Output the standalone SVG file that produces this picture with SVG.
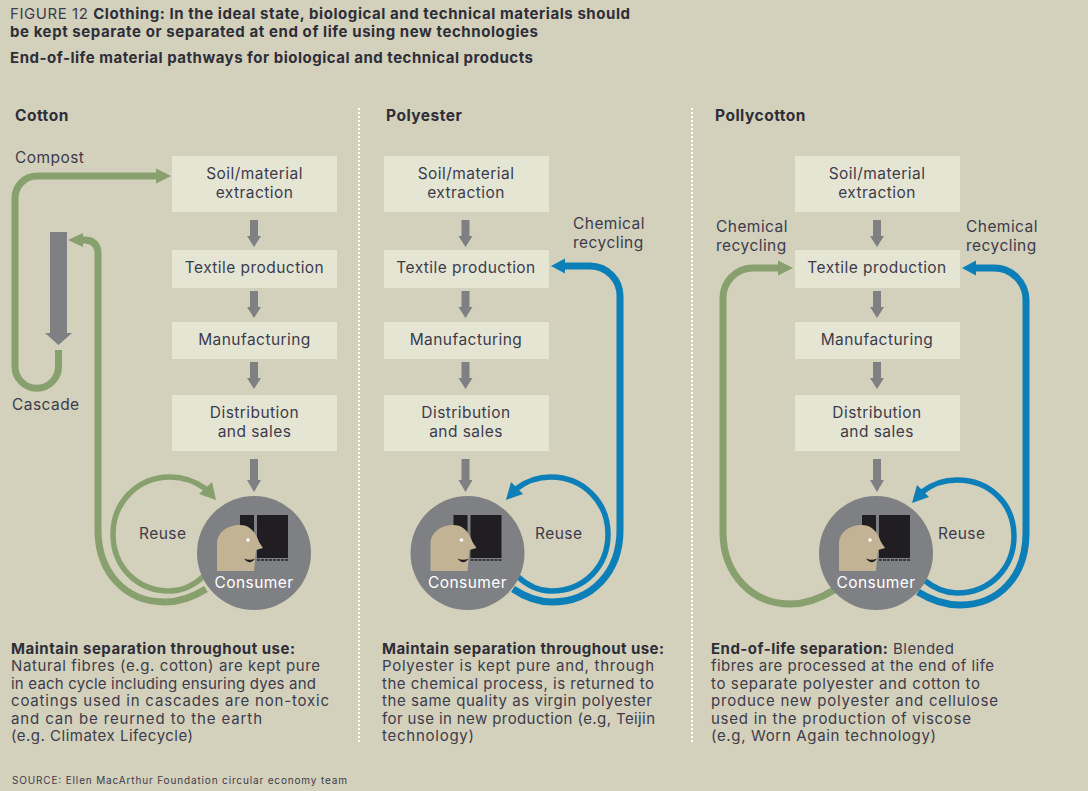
<svg xmlns="http://www.w3.org/2000/svg" width="1088" height="791" viewBox="0 0 1088 791">
<defs>
<style>
text{font-family:"Inter","Liberation Sans",sans-serif;fill:#3d3c4c;font-size:15px}
.n{font-size:15.500px;letter-spacing:.45px}
.c{text-anchor:middle}
.b{font-weight:700;fill:#2e2e38}
.h{font-size:15.500px;letter-spacing:.5px}
.box{fill:#e5e5d4}
.g{fill:none;stroke:#88a06e}
.bl{fill:none;stroke:#0d7fb8}
.gf{fill:#88a06e}
.blf{fill:#0d7fb8}
.ga{fill:#7f8084}
.sep{stroke:#fff;stroke-width:2;stroke-dasharray:2 2;fill:none}
.w7{stroke-width:7}
.w5{stroke-width:5.500}
</style>
<path id="down" class="ga" d="M-4-27H4V-11H7L0 0-7-11H-4Z"/>
<g id="person">
<circle cx="0" cy="0" r="57" fill="#7f8084"/>
<path d="M-14-38H0V5H-14ZM3-38H34V5H3Z" fill="#201e20"/>
<path d="M-37 18V-9C-37-21-26-28-14-28C-2-28 3-17 5-11L9-5L2-3L0 18Z" fill="#c2b394"/>
<circle cx="-6" cy="-13" r="1.800" fill="#fff"/>
<path d="M-10 5.500Q-4 8 1 5.500Q-4 13-10 5.500Z" fill="#201e20"/>
<path d="M3 7H34" stroke="#3a3a40" stroke-width="2" stroke-dasharray="3 1" fill="none"/>
<text class="c n" x="0" y="35" style="fill:#fff">Consumer</text>
</g>
</defs>
<rect width="1088" height="791" fill="#d3d0bb"/>

<g id="header">
<text x="10" y="19" textLength="620"><tspan>FIGURE 12 </tspan><tspan class="b">Clothing: In the ideal state, biological and technical materials should</tspan></text>
<text x="10" y="37" class="b" textLength="528">be kept separate or separated at end of life using new technologies</text>
<text x="10" y="63" class="b" textLength="523">End-of-life material pathways for biological and technical products</text>
<text x="15" y="121" class="b h">Cotton</text>
<text x="386" y="121" class="b h">Polyester</text>
<text x="715" y="121" class="b h">Pollycotton</text>
</g>
<g id="separators">
<path class="sep" d="M359 108V742"/>
<path class="sep" d="M692 108V742"/>
</g>

<g id="connectors">
<use href="#down" x="254" y="247"/><use href="#down" x="254" y="318"/><use href="#down" x="254" y="389"/>
<path class="ga" d="M250 459H258V480H261L254 492 247 480H250Z"/>
<path class="ga" d="M50 232H67V333H72L58.500 345 45 333H50Z"/>
<use href="#down" x="465.500" y="247"/><use href="#down" x="465.500" y="318"/><use href="#down" x="465.500" y="389"/>
<path class="ga" d="M461.500 459H469.500V480H472.500L465.500 492 458.500 480H461.500Z"/>
<use href="#down" x="877" y="247"/><use href="#down" x="877" y="318"/><use href="#down" x="877" y="389"/>
<path class="ga" d="M873 459H881V480H884L877 492 870 480H873Z"/>

<path class="g w7" d="M58.500 350V366.500A21.500 21.500 0 0 1 15 366.500V198A22 22 0 0 1 37 176H158"/>
<path class="gf" d="M156 168.500L171 176 156 183.500Z"/>
<path class="g w7" d="M206 589C190 599 178 602 165 602C125 602 98 572 98 530V254Q98 240 84 240H80"/>
<path class="gf" d="M83 233L68 240 83 247Z"/>
<path class="g w5" d="M204 576C192 587 180 591 170 591C136 591 113 566 113 534C113 502 138 477 170 477C182 477 195 481 206 489"/>
<path class="gf" d="M216 500L199 494 212 482Z"/>

<path class="bl w7" d="M513 589C528 599 540 602 552 602C592 602 620 572 620 530V297A30 30 0 0 0 590 266H560"/>
<path class="blf" d="M565 258.500L551 266 565 273.500Z"/>
<path class="bl w5" d="M517 576C529 587 541 591 551 591C585 591 608 566 608 534C608 502 583 477 551 477C539 477 526 481 516 489"/>
<path class="blf" d="M506 500L523 494 511 482Z"/>

<path class="g w7" d="M834 590C818 600 805 604 790 604C752 604 723 574 723 532V298A30 30 0 0 1 753 268H782"/>
<path class="gf" d="M778 260.500L793 268 778 275.500Z"/>
<path class="bl w7" d="M918 592C934 602 946 605 960 605C1000 605 1026 575 1026 533V300A32 32 0 0 0 994 268H972"/>
<path class="blf" d="M976 260.500L962 268 976 275.500Z"/>
<path class="bl w5" d="M924 580C935 589 947 593 957 593C990 593 1014 568 1014 536C1014 504 990 480 957 480C945 480 932 484 922 492"/>
<path class="blf" d="M912 503L929 497 917 485Z"/>
</g>

<g id="cotton-extraction"><rect class="box" x="172" y="156" width="165" height="56"/><text class="c n" x="254.500" y="179">Soil/material</text><text class="c n" x="254.500" y="198">extraction</text></g>
<g id="cotton-textile"><rect class="box" x="172" y="250" width="165" height="38"/><text class="c n" x="254.500" y="273">Textile production</text></g>
<g id="cotton-manufacturing"><rect class="box" x="172" y="322" width="165" height="37"/><text class="c n" x="254.500" y="345">Manufacturing</text></g>
<g id="cotton-distribution"><rect class="box" x="172" y="395" width="165" height="56"/><text class="c n" x="254.500" y="418">Distribution</text><text class="c n" x="254.500" y="437">and sales</text></g>
<g id="cotton-consumer"><use href="#person" x="254" y="553"/></g>

<g id="polyester-extraction"><rect class="box" x="384" y="156" width="165" height="56"/><text class="c n" x="466" y="179">Soil/material</text><text class="c n" x="466" y="198">extraction</text></g>
<g id="polyester-textile"><rect class="box" x="384" y="250" width="165" height="38"/><text class="c n" x="466" y="273">Textile production</text></g>
<g id="polyester-manufacturing"><rect class="box" x="384" y="322" width="165" height="37"/><text class="c n" x="466" y="345">Manufacturing</text></g>
<g id="polyester-distribution"><rect class="box" x="384" y="395" width="165" height="56"/><text class="c n" x="466" y="418">Distribution</text><text class="c n" x="466" y="437">and sales</text></g>
<g id="polyester-consumer"><use href="#person" x="467.500" y="553"/></g>

<g id="pollycotton-extraction"><rect class="box" x="795" y="156" width="165" height="56"/><text class="c n" x="877" y="179">Soil/material</text><text class="c n" x="877" y="198">extraction</text></g>
<g id="pollycotton-textile"><rect class="box" x="795" y="250" width="165" height="38"/><text class="c n" x="877" y="273">Textile production</text></g>
<g id="pollycotton-manufacturing"><rect class="box" x="795" y="322" width="165" height="37"/><text class="c n" x="877" y="345">Manufacturing</text></g>
<g id="pollycotton-distribution"><rect class="box" x="795" y="395" width="165" height="56"/><text class="c n" x="877" y="418">Distribution</text><text class="c n" x="877" y="437">and sales</text></g>
<g id="pollycotton-consumer"><use href="#person" x="876" y="553"/></g>

<g id="labels">
<text class="n" x="15" y="163">Compost</text>
<text class="n" x="12" y="410">Cascade</text>
<text class="n" x="139" y="539">Reuse</text>
<text class="n" x="535" y="539">Reuse</text>
<text class="n" x="938" y="539">Reuse</text>
<text class="n" x="573" y="229">Chemical</text>
<text class="n" x="573" y="248">recycling</text>
<text class="n" x="716" y="232">Chemical</text>
<text class="n" x="716" y="251">recycling</text>
<text class="n" x="966" y="232">Chemical</text>
<text class="n" x="966" y="251">recycling</text>
</g>

<g id="captions">
<text x="11" y="654" class="b" textLength="284">Maintain separation throughout use:</text>
<text x="11" y="671" textLength="309">Natural fibres (e.g. cotton) are kept pure</text>
<text x="11" y="689" textLength="305">in each cycle including ensuring dyes and</text>
<text x="11" y="706" textLength="318">coatings used in cascades are non-toxic</text>
<text x="11" y="724" textLength="251">and can be reurned to the earth</text>
<text x="11" y="741" textLength="182">(e.g. Climatex Lifecycle)</text>

<text x="382" y="654" class="b" textLength="282">Maintain separation throughout use:</text>
<text x="382" y="671" textLength="272">Polyester is kept pure and, through</text>
<text x="382" y="689" textLength="272">the chemical process, is returned to</text>
<text x="382" y="706" textLength="270">the same quality as virgin polyester</text>
<text x="382" y="724" textLength="273">for use in new production (e.g, Teijin</text>
<text x="382" y="741" textLength="92">technology)</text>

<text x="711" y="654" textLength="243"><tspan class="b">End-of-life separation:</tspan> Blended</text>
<text x="711" y="671" textLength="283">fibres are processed at the end of life</text>
<text x="711" y="689" textLength="269">to separate polyester and cotton to</text>
<text x="711" y="706" textLength="287">produce new polyester and cellulose</text>
<text x="711" y="724" textLength="260">used in the production of viscose</text>
<text x="711" y="741" textLength="225">(e.g, Worn Again technology)</text>

<text x="12" y="784" style="font-size:10px" textLength="335">SOURCE: Ellen MacArthur Foundation circular economy team</text>
</g>
</svg>
